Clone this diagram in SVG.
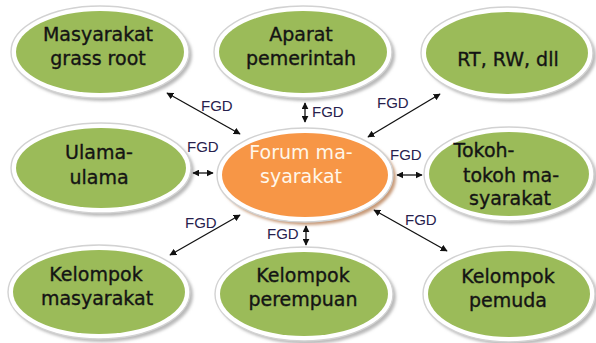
<svg xmlns="http://www.w3.org/2000/svg" width="596" height="343" viewBox="0 0 596 343">
<defs>
<marker id="ah" viewBox="0 0 10 10" refX="9" refY="5" markerWidth="7" markerHeight="7" markerUnits="userSpaceOnUse" orient="auto-start-reverse">
<path d="M0,0 L10,5 L0,10 z" fill="#111"/>
</marker>
<filter id="sh" x="-10%" y="-10%" width="130%" height="130%">
<feGaussianBlur stdDeviation="1.5"/>
</filter>
</defs>
<style>
.shadow{fill:#b9b9b9;filter:url(#sh)}
.rim{fill:#ffffff;stroke:#d2d2d2;stroke-width:1.4}
.green{fill:#9bbb59}
.orange{fill:#f79646}
.oshadow{fill:#c79a78;filter:url(#sh)}
.t{font-family:"DejaVu Sans",Verdana,sans-serif;font-size:19px;fill:#141414;stroke:#141414;stroke-width:0.35;text-anchor:middle}
.tw{font-family:"DejaVu Sans",Verdana,sans-serif;font-size:19px;fill:#fff7ea;text-anchor:middle}
.lbl{font-family:"Liberation Sans",Arial,sans-serif;font-size:15px;fill:#27214d}
.con{stroke:#111;stroke-width:1.3;fill:none;marker-start:url(#ah);marker-end:url(#ah)}
</style>
<rect width="596" height="343" fill="#ffffff"/>

<g id="n1">
<ellipse class="shadow" cx="103" cy="55" rx="89" ry="46"/>
<ellipse class="rim" cx="100" cy="52" rx="89" ry="46"/>
<ellipse class="green" cx="100" cy="52" rx="84" ry="41"/>
<text class="t" x="98" y="41">Masyarakat</text>
<text class="t" x="98" y="65">grass root</text>
</g>

<g id="n2">
<ellipse class="shadow" cx="306" cy="55" rx="89" ry="46"/>
<ellipse class="rim" cx="303" cy="52" rx="89" ry="46"/>
<ellipse class="green" cx="303" cy="52" rx="84" ry="41"/>
<text class="t" x="301" y="41">Aparat</text>
<text class="t" x="301" y="65">pemerintah</text>
</g>

<g id="n3">
<ellipse class="shadow" cx="510" cy="56" rx="86" ry="46"/>
<ellipse class="rim" cx="507" cy="53" rx="86" ry="46"/>
<ellipse class="green" cx="507" cy="53" rx="81" ry="41"/>
<text class="t" x="508" y="66">RT, RW, dll</text>
</g>

<g id="n4">
<ellipse class="shadow" cx="104" cy="171" rx="90" ry="45"/>
<ellipse class="rim" cx="101" cy="168" rx="90" ry="45"/>
<ellipse class="green" cx="101" cy="168" rx="85" ry="40"/>
<text class="t" x="99" y="159">Ulama-</text>
<text class="t" x="99" y="184">ulama</text>
</g>

<g id="n5">
<ellipse class="oshadow" cx="308" cy="178" rx="88" ry="47"/>
<ellipse class="rim" cx="305" cy="175" rx="88" ry="47"/>
<ellipse class="orange" cx="305" cy="175" rx="83" ry="42"/>
<text class="tw" x="301" y="159">Forum ma-</text>
<text class="tw" x="301" y="183">syarakat</text>
</g>

<g id="n6">
<ellipse class="shadow" cx="512" cy="177" rx="85" ry="47"/>
<ellipse class="rim" cx="509" cy="174" rx="85" ry="47"/>
<ellipse class="green" cx="509" cy="174" rx="80" ry="42"/>
<text class="t" x="484" y="157">Tokoh-</text>
<text class="t" x="511" y="182">tokoh ma-</text>
<text class="t" x="510" y="205">syarakat</text>
</g>

<g id="n7">
<ellipse class="shadow" cx="102" cy="295" rx="91" ry="47"/>
<ellipse class="rim" cx="99" cy="292" rx="91" ry="47"/>
<ellipse class="green" cx="99" cy="292" rx="86" ry="42"/>
<text class="t" x="96" y="281">Kelompok</text>
<text class="t" x="97" y="305">masyarakat</text>
</g>

<g id="n8">
<ellipse class="shadow" cx="307" cy="297" rx="89" ry="47"/>
<ellipse class="rim" cx="304" cy="294" rx="89" ry="47"/>
<ellipse class="green" cx="304" cy="294" rx="84" ry="42"/>
<text class="t" x="303" y="282">Kelompok</text>
<text class="t" x="303" y="306">perempuan</text>
</g>

<g id="n9">
<ellipse class="shadow" cx="512" cy="297" rx="86" ry="48"/>
<ellipse class="rim" cx="509" cy="294" rx="86" ry="48"/>
<ellipse class="green" cx="509" cy="294" rx="81" ry="43"/>
<text class="t" x="508" y="283">Kelompok</text>
<text class="t" x="508" y="307">pemuda</text>
</g>

<g id="connectors">
<line class="con" x1="167" y1="93" x2="240" y2="134"/>
<line class="con" x1="305" y1="103" x2="305" y2="122"/>
<line class="con" x1="368" y1="137" x2="440" y2="94"/>
<line class="con" x1="193" y1="173" x2="213" y2="173"/>
<line class="con" x1="397" y1="175" x2="422" y2="175"/>
<line class="con" x1="170" y1="255" x2="240" y2="215"/>
<line class="con" x1="306" y1="226" x2="306" y2="245"/>
<line class="con" x1="374" y1="210" x2="447" y2="251"/>
<text class="lbl" x="201" y="111">FGD</text>
<text class="lbl" x="312" y="117">FGD</text>
<text class="lbl" x="377" y="108">FGD</text>
<text class="lbl" x="187" y="152">FGD</text>
<text class="lbl" x="390" y="160">FGD</text>
<text class="lbl" x="185" y="228">FGD</text>
<text class="lbl" x="267" y="239">FGD</text>
<text class="lbl" x="405" y="225">FGD</text>
</g>
</svg>
